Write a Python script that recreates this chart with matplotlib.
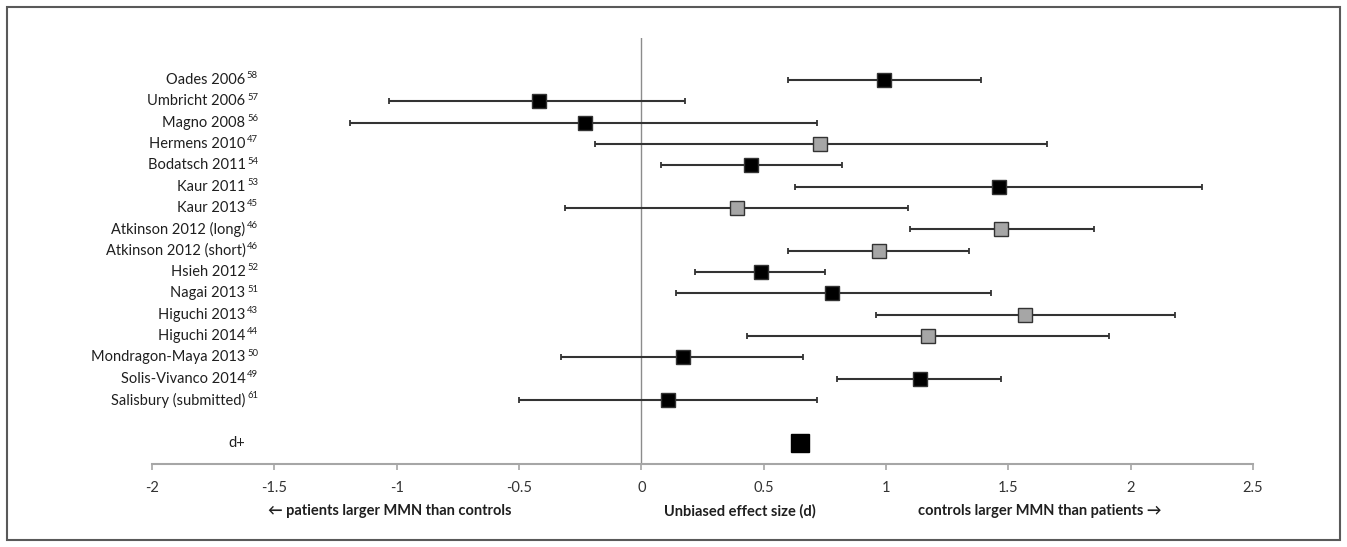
import matplotlib
matplotlib.use('Agg')
import matplotlib.pyplot as plt
from matplotlib.patches import Rectangle

plt.rcParams['font.family'] = ['Lato', 'DejaVu Sans']

# ---- data ----
estudos = ["Oades 2006", "Umbricht 2006", "Magno 2008", "Hermens 2010", "Bodatsch 2011",
           "Kaur 2011", "Kaur 2013", "Atkinson 2012 (long)", "Atkinson 2012 (short)",
           "Hsieh 2012", "Nagai 2013", "Higuchi 2013", "Higuchi 2014",
           "Mondragon-Maya 2013", "Solis-Vivanco 2014", "Salisbury (submitted)"]
refs = ["58", "57", "56", "47", "54", "53", "45", "46", "46", "52", "51", "43", "44", "50", "49", "61"]
efeito = [0.99, -0.42, -0.23, 0.73, 0.45, 1.46, 0.39, 1.47, 0.97, 0.49, 0.78, 1.57, 1.17, 0.17, 1.14, 0.11]
ic_inf = [0.60, -1.03, -1.19, -0.19, 0.08, 0.63, -0.31, 1.10, 0.60, 0.22, 0.14, 0.96, 0.43, -0.33, 0.80, -0.50]
ic_sup = [1.39, 0.18, 0.72, 1.66, 0.82, 2.29, 1.09, 1.85, 1.34, 0.75, 1.43, 2.18, 1.91, 0.66, 1.47, 0.72]
cinza = [False, False, False, True, False, False, True, True, True, False, False, True, True, False, False, False]
d_mais = 0.65

xticks = [-2, -1.5, -1, -0.5, 0, 0.5, 1, 1.5, 2, 2.5]
xticklabels = ["-2", "-1.5", "-1", "-0.5", "0", "0.5", "1", "1.5", "2", "2.5"]

fig = plt.figure(figsize=(13.47, 5.47), dpi=100)
ax = fig.add_axes([152 / 1347, 83 / 547, 1101 / 1347, 426 / 547])

posicoes = list(range(len(estudos)))
pos_d = len(estudos) + 1

ax.axvline(0, color='#8c8c8c', lw=1.0, zorder=1)

for y, m, lo, hi, g in zip(posicoes, efeito, ic_inf, ic_sup, cinza):
    ax.errorbar(m, y, xerr=[[m - lo], [hi - m]], fmt='none', ecolor='#333333',
                elinewidth=1.5, capsize=2.5, capthick=1.3, zorder=2)
    ax.plot(m, y, marker='s', markersize=10,
            markerfacecolor='#a6a6a6' if g else 'black',
            markeredgecolor='#333333', markeredgewidth=1.0, linestyle='none', zorder=3)

ax.plot(d_mais, pos_d, marker='s', markersize=12.5, color='black', linestyle='none', zorder=3)

ax.set_xlim(-2, 2.5)
ax.set_ylim(18.0, -1.97)

# rótulos dos estudos
trans = ax.get_yaxis_transform()
x_fim = (258 - 152) / 1101
for y, nome, r in zip(posicoes, estudos, refs):
    ax.annotate(nome, xy=(x_fim, y), xycoords=trans, xytext=(-9, 0), textcoords='offset points',
                ha='right', va='center', fontsize=10.5, color='#1f1f1f')
    ax.annotate(r, xy=(x_fim, y), xycoords=trans, xytext=(0, 3), textcoords='offset points',
                ha='right', va='center', fontsize=6.8, color='#1f1f1f')
ax.annotate("d+", xy=(x_fim, pos_d), xycoords=trans, xytext=(-9, 0), textcoords='offset points',
            ha='right', va='center', fontsize=10.5, color='#1f1f1f')

ax.set_yticks([])
ax.set_xticks(xticks)
ax.set_xticklabels(xticklabels, fontsize=10.5, color='#333333')
ax.tick_params(axis='x', direction='out', length=4, width=1.2, color='#a6a6a6', pad=8)
for lado in ['top', 'right', 'left']:
    ax.spines[lado].set_visible(False)
ax.spines['bottom'].set_color('#a6a6a6')
ax.spines['bottom'].set_linewidth(1.5)

# textos do eixo x
fig.text(390 / 1347, 1 - 511 / 547, "\u2190 patients larger MMN than controls", ha='center', va='center',
         fontsize=10.5, fontweight='bold', color='#1f1f1f')
fig.text(740 / 1347, 1 - 511 / 547, "Unbiased effect size (d)", ha='center', va='center',
         fontsize=10.5, fontweight='bold', color='#1f1f1f')
fig.text(1040 / 1347, 1 - 511 / 547, "controls larger MMN than patients \u2192", ha='center', va='center',
         fontsize=10.5, fontweight='bold', color='#1f1f1f')

# moldura
fig.patches.append(Rectangle((7 / 1347, 7 / 547), 1333 / 1347, 533 / 547, transform=fig.transFigure,
                             fill=False, edgecolor='#595959', lw=1.5))

fig.savefig("out.png", dpi=100, facecolor='white')
